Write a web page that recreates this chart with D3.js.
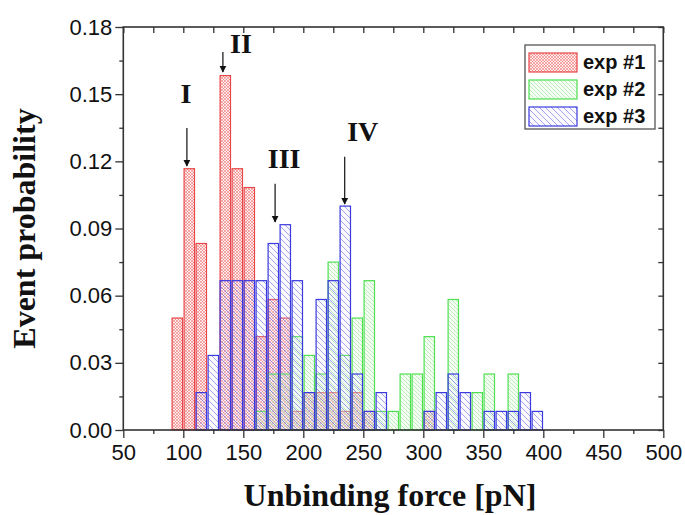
<!DOCTYPE html>
<html>
<head>
<meta charset="utf-8">
<script src="https://cdn.jsdelivr.net/npm/d3@7"></script>
<style>
html,body{margin:0;padding:0;background:#fff;}
svg{display:block;}
</style>
</head>
<body>
<svg id="chart" width="685" height="515"></svg>
<script>
// ---- data ----
const binStarts = [90,100,110,120,130,140,150,160,170,180,190,200,210,220,230,240,250,260,270,280,290,300,310,320,330,340,350,360,370,380,390];
const binWidth = 10;
const exp1 = [0.05,0.1167,0.0833,0,0.1583,0.1167,0.1083,0.0417,0.0583,0.05,0.0083,0.0167,0.0167,0.0167,0.0083,0.0167,0.0083,0,0,0,0,0.0083,0,0,0,0,0,0,0,0,0];
const exp2 = [0,0,0,0,0,0,0,0.0083,0.025,0.025,0.0417,0.0333,0.025,0.075,0.0333,0.05,0.0667,0.0083,0.0083,0.025,0.025,0.0417,0,0.0583,0,0.0167,0.025,0,0.025,0,0];
const exp3 = [0,0,0.0167,0.0333,0.0667,0.0667,0.0667,0.0667,0.0833,0.0917,0.0667,0.0167,0.0583,0.0667,0.1,0.025,0.0083,0.0167,0,0,0,0.0083,0.0167,0.025,0.0167,0,0.0083,0.0083,0.0083,0.0167,0.0083];
const seriesNames = ["exp #1","exp #2","exp #3"];
const xTicks = [50,100,150,200,250,300,350,400,450,500];
const yTicks = [0,0.03,0.06,0.09,0.12,0.15,0.18];
const annotationLabels = ["I","II","III","IV"];
const annotationX = [103,133,176.5,234.5];        // pN, arrow position
const annotationArrowTop = [0.117,0.159,0.110,0.122]; // arrow start (probability)
const annotationArrowEnd = [0.117,0.159,0.092,0.1];   // arrow tip (probability)

// ---- layout ----
const svg = d3.select("#chart");
const L = 123.3, R = 663.3, T = 27, B = 430;
const x = d3.scaleLinear().domain([50,500]).range([L,R]);
const y = d3.scaleLinear().domain([0,0.18]).range([B,T]);

// ---- patterns ----
const defs = svg.append("defs");
function crossPattern(id, color, bg){
  const p = defs.append("pattern").attr("id",id).attr("patternUnits","userSpaceOnUse")
    .attr("width",3).attr("height",3);
  p.append("rect").attr("width",3).attr("height",3).attr("fill",bg);
  p.append("path").attr("d","M0,0 L3,3 M3,0 L0,3").attr("stroke",color).attr("stroke-width",0.7);
}
function diagPattern(id, color, bg, s, w){
  const p = defs.append("pattern").attr("id",id).attr("patternUnits","userSpaceOnUse")
    .attr("width",s).attr("height",s);
  p.append("rect").attr("width",s).attr("height",s).attr("fill",bg);
  p.append("path").attr("d",`M${-s},0 L${s},${2*s} M0,${-s} L${2*s},${s} M${-s},${-s} L${2*s},${2*s}`)
    .attr("stroke",color).attr("stroke-width",w);
}
crossPattern("p1","rgba(235,90,90,0.7)","rgba(255,205,205,0.35)");
diagPattern("p2","rgba(130,225,130,0.65)","rgba(220,250,220,0.25)",4,0.8);
diagPattern("p3","rgba(110,110,230,0.7)","rgba(225,225,255,0.15)",6,0.9);

const series = [
  {name:seriesNames[0], values:exp1, fill:"url(#p1)", stroke:"#e8474a"},
  {name:seriesNames[1], values:exp2, fill:"url(#p2)", stroke:"#4fe04f"},
  {name:seriesNames[2], values:exp3, fill:"url(#p3)", stroke:"#3a3ae0"}
];

// ---- bars ----
series.forEach(s=>{
  const data = binStarts.map((b,i)=>({b, v:s.values[i]})).filter(d=>d.v>0);
  svg.append("g").selectAll("rect").data(data).join("rect")
    .attr("x",d=>x(d.b)+0.8)
    .attr("width",d=>x(d.b+binWidth)-x(d.b)-1.6)
    .attr("y",d=>y(d.v))
    .attr("height",d=>y(0)-y(d.v))
    .attr("fill",s.fill)
    .attr("stroke",s.stroke)
    .attr("stroke-width",1.2);
});

// ---- axes ----
const axisColor = "#333";
const xMinor = [75,125,175,225,275,325,375,425,475];
const yMinor = [0.015,0.045,0.075,0.105,0.135,0.165];
const gx = svg.append("g").attr("transform",`translate(0,${B})`)
  .call(d3.axisBottom(x).tickValues(xTicks).tickSize(8).tickPadding(2).tickFormat(d3.format("d")));
svg.append("g").attr("transform",`translate(0,${B})`)
  .call(d3.axisBottom(x).tickValues(xMinor).tickSize(4).tickFormat(""));
const gy = svg.append("g").attr("transform",`translate(${L},0)`)
  .call(d3.axisLeft(y).tickValues(yTicks).tickSize(8).tickPadding(3).tickFormat(d3.format(".2f")));
svg.append("g").attr("transform",`translate(${L},0)`)
  .call(d3.axisLeft(y).tickValues(yMinor).tickSize(4).tickFormat(""));
svg.append("g").attr("transform",`translate(0,${T})`)
  .call(d3.axisBottom(x).tickValues(xTicks.concat(xMinor)).tickSize(6).tickFormat(""));
svg.append("g").attr("transform",`translate(${R},0)`)
  .call(d3.axisLeft(y).tickValues(yTicks.concat(yMinor)).tickSize(5).tickFormat(""));
svg.selectAll(".domain").remove();
svg.selectAll(".tick line").attr("stroke",axisColor).attr("stroke-width",1.3);
svg.selectAll(".tick text").attr("fill","#111").style("font-family","'Liberation Sans', Arial, sans-serif").style("font-size","22px");
gx.selectAll(".tick text").attr("dy","0.92em");
svg.append("rect").attr("x",L).attr("y",T).attr("width",R-L).attr("height",B-T)
  .attr("fill","none").attr("stroke",axisColor).attr("stroke-width",1.6);

// ---- axis titles ----
svg.append("text").attr("x",390).attr("y",506)
  .attr("text-anchor","middle").style("font-family","'Liberation Serif', 'Times New Roman', serif")
  .style("font-weight","bold").style("font-size","32px").attr("fill","#111").text("Unbinding force [pN]");
svg.append("text").attr("transform",`translate(35,${(T+B)/2}) rotate(-90)`)
  .attr("text-anchor","middle").style("font-family","'Liberation Serif', 'Times New Roman', serif")
  .style("font-weight","bold").style("font-size","32px").attr("fill","#111").text("Event probability");

// ---- annotations ----
defs.append("marker").attr("id","arrow").attr("viewBox","0 0 10 10").attr("refX",9).attr("refY",5)
  .attr("markerWidth",7).attr("markerHeight",10).attr("markerUnits","userSpaceOnUse").attr("orient","auto")
  .append("path").attr("d","M0,0 L10,5 L0,10 Z").attr("fill","#111");
const labelOffsets = [{dx:-1,dy:-25},{dx:18,dy:1},{dx:9,dy:-16},{dx:18,dy:-16}];
annotationLabels.forEach((lab,i)=>{
  const ax = x(annotationX[i]);
  const y1 = i===0 ? 128 : i===1 ? 52 : y(annotationArrowTop[i]);
  const y2 = y(annotationArrowEnd[i]) - 2;
  svg.append("line").attr("x1",ax).attr("x2",ax).attr("y1",y1).attr("y2",y2)
    .attr("stroke","#111").attr("stroke-width",1.2).attr("marker-end","url(#arrow)");
  svg.append("text").attr("x",ax+labelOffsets[i].dx).attr("y",y1+labelOffsets[i].dy)
    .attr("text-anchor","middle").style("font-family","'Liberation Serif', 'Times New Roman', serif")
    .style("font-weight","bold").style("font-size","28px").attr("fill","#111").text(lab);
});

// ---- legend ----
const lg = svg.append("g");
lg.append("rect").attr("x",525).attr("y",45).attr("width",130).attr("height",84)
  .attr("fill","#fff").attr("stroke","#555").attr("stroke-width",1.3);
series.forEach((s,i)=>{
  const yy = 53 + i*27;
  lg.append("rect").attr("x",529).attr("y",yy).attr("width",48).attr("height",19)
    .attr("fill",s.fill).attr("stroke",s.stroke).attr("stroke-width",1.2);
  lg.append("text").attr("x",583).attr("y",yy+16).style("font-family","'Liberation Sans', Arial, sans-serif")
    .style("font-weight","bold").style("font-size","20px").attr("fill","#111").text(s.name);
});
</script>
</body>
</html>
